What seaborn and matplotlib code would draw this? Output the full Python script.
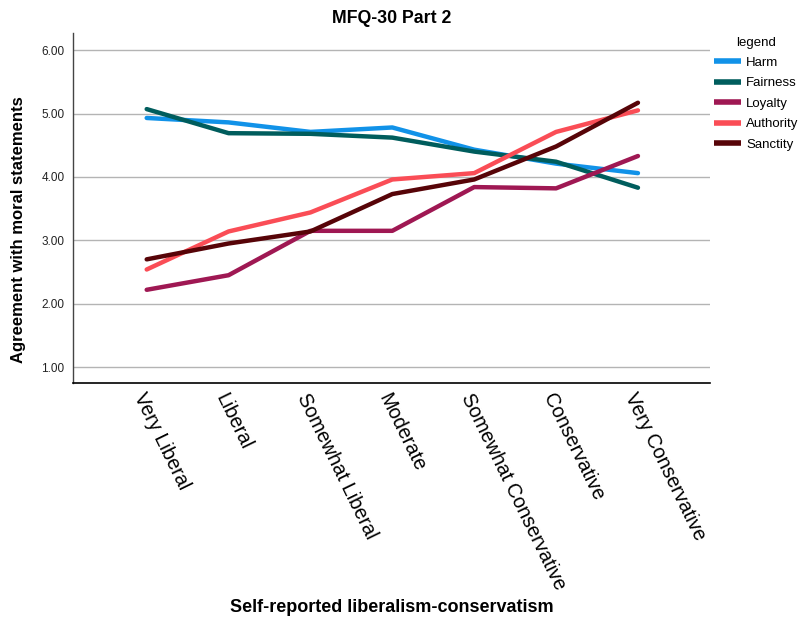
import matplotlib
matplotlib.use("Agg")
import matplotlib.pyplot as plt
import seaborn as sns
import pandas as pd
from matplotlib.ticker import FormatStrFormatter

categories = ["Very Liberal", "Liberal", "Somewhat Liberal", "Moderate",
              "Somewhat Conservative", "Conservative", "Very Conservative"]
harm = [4.93, 4.86, 4.71, 4.78, 4.43, 4.21, 4.06]
fairness = [5.07, 4.69, 4.68, 4.62, 4.40, 4.24, 3.83]
loyalty = [2.22, 2.45, 3.15, 3.15, 3.84, 3.82, 4.33]
authority = [2.54, 3.14, 3.44, 3.96, 4.06, 4.71, 5.05]
sanctity = [2.70, 2.95, 3.14, 3.73, 3.96, 4.48, 5.17]
series_names = ["Harm", "Fairness", "Loyalty", "Authority", "Sanctity"]
colors = ["#1192e8", "#005d5d", "#9f1853", "#fa4d56", "#570408"]

sns.set_theme(style="white")
plt.rcParams['font.family'] = ['Liberation Sans', 'DejaVu Sans']
plt.rcParams['text.color'] = 'black'
plt.rcParams['axes.labelcolor'] = 'black'
plt.rcParams['xtick.color'] = 'black'
plt.rcParams['ytick.color'] = 'black'

rows = []
for name, vals in zip(series_names, [harm, fairness, loyalty, authority, sanctity]):
    for i, (c, v) in enumerate(zip(categories, vals)):
        rows.append({"x": i, "cat": c, "value": v, "legend": name})
df = pd.DataFrame(rows)

fig = plt.figure(figsize=(8.02, 6.26), dpi=100)
ax = fig.add_axes([73/802, 1-383/626, (710-73)/802, (383-33)/626])

sns.lineplot(data=df, x="x", y="value", hue="legend", palette=colors,
             hue_order=series_names, linewidth=3.2, ax=ax, legend=True)

ax.set_xlim(-0.9, 6.88)
ax.set_ylim(0.75, 6.27)
ax.set_yticks([1, 2, 3, 4, 5, 6])
ax.yaxis.set_major_formatter(FormatStrFormatter("%.2f"))
ax.grid(axis="y", color="#b4b4b4", linewidth=1)
ax.set_axisbelow(True)
for s in ["top", "right"]:
    ax.spines[s].set_visible(False)
ax.spines["left"].set_color("#444444")
ax.spines["bottom"].set_color("black")
ax.spines["left"].set_linewidth(1)
ax.spines["bottom"].set_linewidth(1.2)
ax.tick_params(axis="both", length=0)
ax.tick_params(axis="y", labelsize=8.5, labelcolor="#222222", pad=6)
ax.set_xticks(range(len(categories)))
ax.set_xticklabels(categories, rotation=-64, ha="left", va="top",
                   rotation_mode="anchor", fontsize=14.3)
ax.tick_params(axis="x", pad=5)

ax.set_xlabel("Self-reported liberalism-conservatism", fontsize=13,
              fontweight="bold")
ax.xaxis.set_label_coords((392-73)/(710-73), (383-599)/350)
ax.set_ylabel("Agreement with moral statements", fontsize=12,
              fontweight="bold")
ax.yaxis.set_label_coords((26-73)/637, (383-230)/350)
ax.set_title("MFQ-30 Part 2", fontsize=12.8, fontweight="bold", pad=7)

leg = ax.legend(title="legend", loc="upper left",
                bbox_to_anchor=(711/802, 1-34/626),
                bbox_transform=fig.transFigure, frameon=False,
                fontsize=9.5, title_fontsize=9.5, handlelength=2.1,
                handletextpad=0.35, labelspacing=0.62, borderaxespad=0,
                borderpad=0.2)
for line in leg.get_lines():
    line.set_linewidth(4)
    line.set_solid_capstyle("butt")

fig.savefig("out.png", dpi=100)
